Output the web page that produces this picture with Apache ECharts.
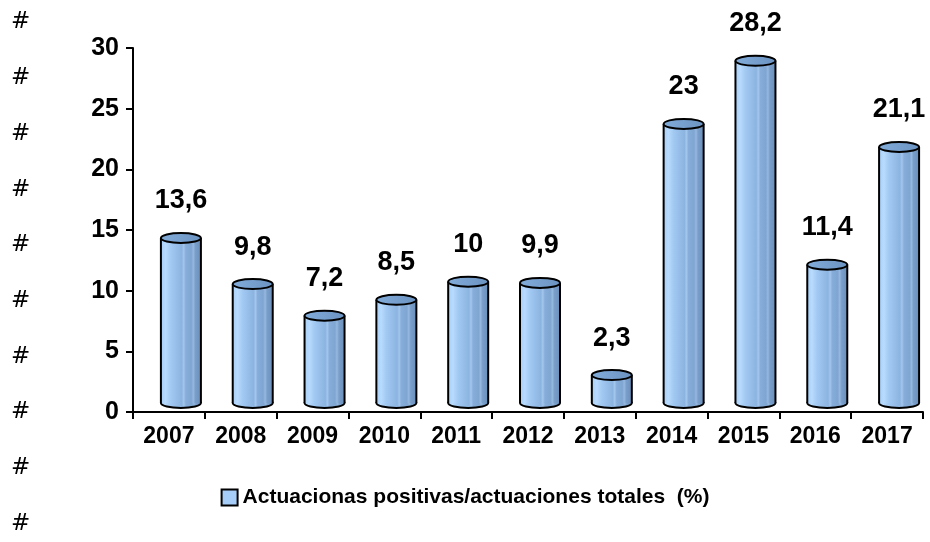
<!DOCTYPE html>
<html>
<head>
<meta charset="utf-8">
<title>Actuaciones positivas</title>
<script src="https://cdn.jsdelivr.net/npm/echarts@6/dist/echarts.min.js"></script>
<style>
  html, body { margin: 0; padding: 0; background: #fff; }
  #chart { width: 930px; height: 542px; }
</style>
</head>
<body>
<div id="chart"></div>
<script>
// datos
var years = ['2007', '2008', '2009', '2010', '2011', '2012', '2013', '2014', '2015', '2016', '2017'];
var ratio = [13.6, 9.8, 7.2, 8.5, 10, 9.9, 2.3, 23, 28.2, 11.4, 21.1];
var seriesName = 'Actuacionas positivas/actuaciones totales  (%)';
var hashMarks = ['#', '#', '#', '#', '#', '#', '#', '#', '#', '#'];

var FONT = '"Liberation Sans", Arial, sans-serif';

// desplazamiento 3D del cilindro
var DX = 12, DY = -9, HALF_W = 20, RY = 5, LABEL_GAP = 37;

var bodyFill = new echarts.graphic.LinearGradient(0, 0, 1, 0, [
  { offset: 0, color: '#a8d0f9' },
  { offset: 0.12, color: '#b8dbfd' },
  { offset: 0.25, color: '#a2c9f2' },
  { offset: 0.4, color: '#95bde8' },
  { offset: 0.52, color: '#8cb4e0' },
  { offset: 0.57, color: '#a3c6ec' },
  { offset: 0.62, color: '#87aedb' },
  { offset: 0.76, color: '#7fa5d1' },
  { offset: 0.81, color: '#95b8df' },
  { offset: 0.86, color: '#789ec9' },
  { offset: 1, color: '#6a8fba' }
]);

var topFill = new echarts.graphic.LinearGradient(0, 0, 1, 0, [
  { offset: 0, color: '#82acda' },
  { offset: 1, color: '#6b93c1' }
]);

function fmt(v) {
  return String(v).replace('.', ',');
}

function renderCylinder(params, api) {
  var idx = api.value(0);
  var val = api.value(1);
  var top = api.coord([idx, val]);
  var base = api.coord([idx, 0]);
  var cx = top[0] + DX;
  var ty = top[1] + DY;
  var by = base[1] + DY;
  var line = { stroke: '#000', lineWidth: 2 };
  return {
    type: 'group',
    children: [
      {
        type: 'ellipse',
        shape: { cx: cx, cy: by, rx: HALF_W, ry: RY },
        style: { fill: bodyFill, stroke: '#000', lineWidth: 2 }
      },
      {
        type: 'rect',
        shape: { x: cx - HALF_W, y: ty, width: HALF_W * 2, height: by - ty },
        style: { fill: bodyFill }
      },
      {
        type: 'line',
        shape: { x1: cx - HALF_W, y1: ty, x2: cx - HALF_W, y2: by },
        style: line
      },
      {
        type: 'line',
        shape: { x1: cx + HALF_W, y1: ty, x2: cx + HALF_W, y2: by },
        style: line
      },
      {
        type: 'ellipse',
        shape: { cx: cx, cy: ty, rx: HALF_W, ry: RY },
        style: { fill: topFill, stroke: '#000', lineWidth: 2 }
      },
      {
        type: 'text',
        style: {
          text: fmt(val),
          x: cx,
          y: ty - LABEL_GAP,
          align: 'center',
          verticalAlign: 'middle',
          font: 'bold 27px ' + FONT,
          fill: '#000'
        }
      }
    ]
  };
}

var chart = echarts.init(document.getElementById('chart'));

chart.setOption({
  animation: false,
  backgroundColor: '#fff',
  grid: {
    left: 133,
    right: 7,
    top: 48,
    bottom: 130,
    containLabel: false
  },
  legend: {
    top: 482,
    left: 'center',
    itemWidth: 16,
    itemHeight: 16,
    itemGap: 4,
    data: [{ name: seriesName, icon: 'rect' }],
    textStyle: {
      fontFamily: FONT,
      fontWeight: 'bold',
      fontSize: 21,
      color: '#000'
    }
  },
  xAxis: {
    type: 'category',
    data: years,
    axisLine: { lineStyle: { color: '#000', width: 2 } },
    axisTick: { show: true, length: 7, lineStyle: { color: '#000', width: 2 } },
    axisLabel: {
      margin: 13,
      fontFamily: FONT,
      fontWeight: 'bold',
      fontSize: 23,
      color: '#000'
    }
  },
  yAxis: {
    type: 'value',
    min: 0,
    max: 30,
    interval: 5,
    splitLine: { show: false },
    axisLine: { show: true, lineStyle: { color: '#000', width: 2 } },
    axisTick: { show: true, length: 7, lineStyle: { color: '#000', width: 2 } },
    axisLabel: {
      margin: 14,
      fontFamily: FONT,
      fontWeight: 'bold',
      fontSize: 25,
      color: '#000'
    }
  },
  graphic: hashMarks.map(function (h, i) {
    return {
      type: 'text',
      left: 11,
      top: 11 + i * 55.7,
      style: {
        text: h,
        font: '23px "DejaVu Sans", sans-serif',
        fill: '#000'
      }
    };
  }),
  series: [{
    name: seriesName,
    type: 'custom',
    renderItem: renderCylinder,
    itemStyle: { color: '#a6cdf7', borderColor: '#000', borderWidth: 1.5 },
    encode: { x: 0, y: 1 },
    data: ratio.map(function (v, i) { return [i, v]; })
  }]
});
</script>
</body>
</html>
